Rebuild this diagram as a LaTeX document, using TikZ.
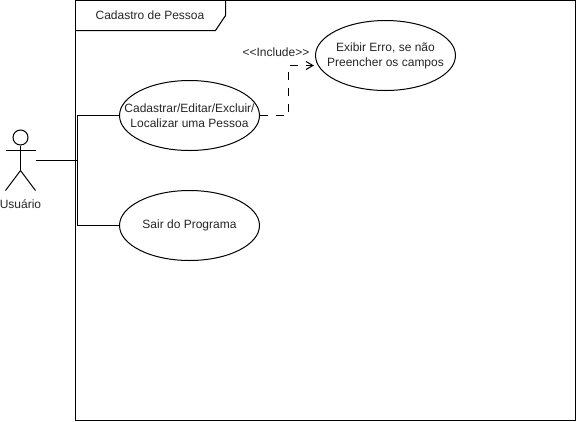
\documentclass[tikz,border=0pt]{standalone}
\usepackage{fontspec}
\setmainfont{Liberation Sans}
\usetikzlibrary{shapes.geometric,arrows.meta}
\tikzset{
  line/.style={draw=black,line width=1pt},
  usecase/.style={ellipse,line,fill=white,inner sep=-30pt,minimum width=140pt,minimum height=70pt,align=center,font=\fontsize{12}{15}\selectfont,text=black!85},
  lbl/.style={inner sep=0pt,font=\fontsize{12}{15}\selectfont,text=black!85},
  actorbox/.style={inner sep=0pt,minimum width=30pt,minimum height=60pt},
  conn/.style={line},
  incl/.style={line,dash pattern=on 8pt off 8pt,-{Straight Barb[length=7pt,width=8pt,line width=1pt]}}
}
\begin{document}
\begin{tikzpicture}[x=1pt,y=-1pt]
\useasboundingbox (0,0) rectangle (576,421);
% frame
\draw[line] (75.5,0.5) rectangle (575.5,420.5);
\draw[line] (75.5,30.5) -- (215.5,30.5) -- (225.5,15.5) -- (225.5,0.5);
\node[lbl] (title) at (150,15) {Cadastro de Pessoa};
% actor
\node[actorbox] (actor) at (20.5,160.5) {};
\node[line,circle,inner sep=0pt,minimum size=15pt] (head) at (20.5,137.5) {};
\coordinate (neck) at (20.5,170.5);
\draw[line] (head.south) -- (neck);
\draw[line] (5.5,150.5) -- (35.5,150.5);
\draw[line] (5.5,190.5) -- (neck) -- (35.5,190.5);
\node[lbl] (actorlabel) at (20.5,204) {Usuário};
% use cases
\node[usecase] (e1) at (189.5,115.5) {Cadastrar/Editar/Excluir/\\Localizar uma Pessoa};
\node[usecase] (e2) at (189.5,225.5) {Sair do Programa};
\node[usecase] (e3) at (385.5,55.5) {Exibir Erro, se não\\Preencher os campos};
% connectors
\coordinate (trunk) at (77.5,160.5);
\draw[conn] (actor.east) -- (trunk);
\draw[conn] (trunk) |- (e1.west);
\draw[conn] (trunk) |- (e2.west);
\coordinate (bend) at (288,115.5);
\coordinate (inc) at (314,65.5);
\draw[incl] (e1.east) -- (bend) |- (inc);
\node[inner sep=0pt,font=\fontsize{12}{14}\selectfont,text=black!85] (incl) at (276,52.5) {<{}<Include>{}>};
\end{tikzpicture}
\end{document}
